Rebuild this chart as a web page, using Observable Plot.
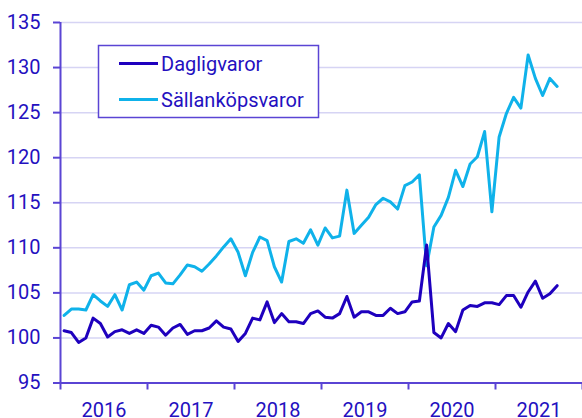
<!DOCTYPE html>
<html>
<head>
<meta charset="utf-8">
<script src="https://cdn.jsdelivr.net/npm/d3@7"></script>
<script src="https://cdn.jsdelivr.net/npm/@observablehq/plot@0.6"></script>
<style>
  html, body { margin: 0; padding: 0; background: #fff; }
  #chart { width: 582px; height: 418px; }
</style>
</head>
<body>
<div id="chart"></div>
<script>
const years = [2016, 2017, 2018, 2019, 2020, 2021];
const yTicks = [95, 100, 105, 110, 115, 120, 125, 130, 135];
const seriesNames = ["Dagligvaror", "Sällanköpsvaror"];

// Monthly index values, Jan 2016 onwards
const dagligvaror = [
  100.8, 100.6, 99.5, 100.0, 102.2, 101.6, 100.1, 100.7, 100.9, 100.5, 100.9, 100.5,
  101.4, 101.2, 100.3, 101.1, 101.5, 100.4, 100.8, 100.8, 101.1, 101.9, 101.2, 101.0,
  99.6, 100.5, 102.2, 102.0, 104.0, 101.7, 102.7, 101.8, 101.8, 101.6, 102.7, 103.0,
  102.3, 102.2, 102.7, 104.6, 102.3, 102.9, 102.9, 102.5, 102.5, 103.3, 102.7, 102.9,
  104.0, 104.1, 110.3, 100.6, 100.0, 101.6, 100.7, 103.1, 103.6, 103.5, 103.9, 103.9,
  103.7, 104.7, 104.7, 103.4, 105.1, 106.3, 104.4, 104.9, 105.8
];
const sallankopsvaror = [
  102.5, 103.2, 103.2, 103.1, 104.8, 104.1, 103.5, 104.8, 103.1, 105.9, 106.2, 105.3,
  106.9, 107.2, 106.1, 106.0, 107.0, 108.1, 107.9, 107.4, 108.2, 109.1, 110.1, 111.0,
  109.5, 106.9, 109.5, 111.2, 110.8, 107.9, 106.2, 110.7, 111.0, 110.5, 112.0, 110.3,
  112.2, 111.1, 111.3, 116.4, 111.6, 112.5, 113.4, 114.8, 115.5, 115.1, 114.3, 116.9,
  117.3, 118.1, 108.0, 112.3, 113.6, 115.6, 118.6, 116.8, 119.3, 120.1, 122.9, 114.0,
  122.3, 124.9, 126.7, 125.5, 131.4, 128.8, 126.9, 128.8, 127.9
];

const textColor = "#2410c0";
const axisColor = "#5a44d4";
const gridColor = "#d6d4f4";
const colD = "#1e00be";
const colS = "#0fb2ea";

const monthsTotal = years.length * 12;
const yearBounds = d3.range(0, monthsTotal + 1, 12);
const yearCenters = years.map((y, i) => i * 12 + 6);

const chart = Plot.plot({
  width: 582,
  height: 418,
  marginLeft: 60,
  marginRight: 0,
  marginTop: 22,
  marginBottom: 35.5,
  style: { fontFamily: "Roboto", fontSize: "20px", color: textColor, background: "#fff" },
  x: { type: "linear", domain: [0, monthsTotal] },
  y: { domain: [95, 135] },
  marks: [
    Plot.gridY(yTicks, { stroke: gridColor, strokeOpacity: 1, strokeWidth: 1.5 }),
    Plot.axisY(yTicks, { tickSize: 7, tickPadding: 13, stroke: axisColor, strokeWidth: 2, label: null, fontSize: 20 }),
    Plot.axisX(yearBounds, { tickSize: 7, tickFormat: () => "", stroke: axisColor, strokeWidth: 2, label: null }),
    Plot.axisX(yearCenters, { tickSize: 0, tickPadding: 20, tickFormat: (d) => String(years[(d - 6) / 12]), label: null, fontSize: 20 }),
    Plot.ruleX([0], { stroke: axisColor, strokeWidth: 2 }),
    Plot.ruleY([95], { stroke: axisColor, strokeWidth: 2 }),
    Plot.lineY(sallankopsvaror, { x: (d, i) => i + 0.5, y: (d) => d, stroke: colS, strokeWidth: 3, curve: "linear" }),
    Plot.lineY(dagligvaror, { x: (d, i) => i + 0.5, y: (d) => d, stroke: colD, strokeWidth: 3, curve: "linear" })
  ]
});
document.getElementById("chart").appendChild(chart);

// Legend box inside the plot area
const svg = d3.select(chart);
const lg = svg.append("g").attr("font-family", "Roboto").attr("font-size", 20).attr("text-anchor", "start");
lg.append("rect").attr("x", 98.5).attr("y", 45.5).attr("width", 220).attr("height", 72)
  .attr("fill", "#fff").attr("stroke", axisColor).attr("stroke-width", 1.5);
const legendColors = [colD, colS];
seriesNames.forEach((name, i) => {
  const cy = 63.5 + i * 36;
  lg.append("line").attr("x1", 119).attr("x2", 158).attr("y1", cy).attr("y2", cy)
    .attr("stroke", legendColors[i]).attr("stroke-width", 3);
  lg.append("text").attr("x", 161).attr("y", cy).attr("dy", "0.35em")
    .attr("text-anchor", "start").attr("fill", textColor).text(name);
});
</script>
</body>
</html>
